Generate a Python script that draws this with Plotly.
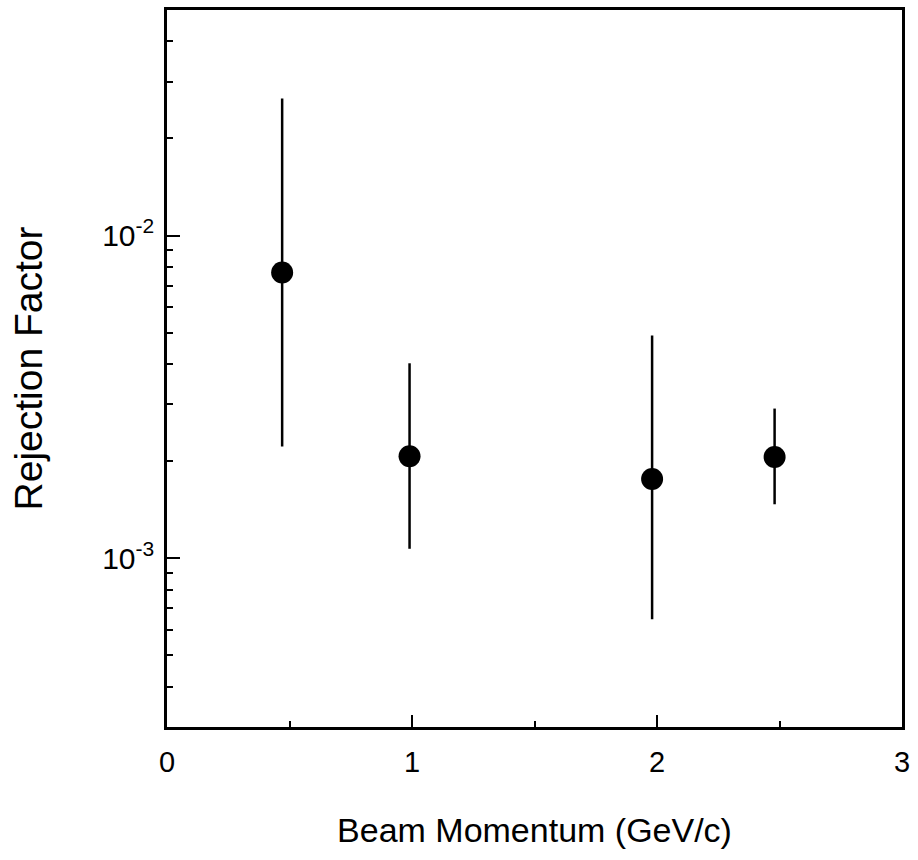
import plotly.graph_objects as go

# Data
momentum = [0.47, 0.99, 1.98, 2.48]
rejection = [7.68e-3, 2.07e-3, 1.76e-3, 2.06e-3]
err_upper = [2.66e-2, 4.02e-3, 4.90e-3, 2.91e-3]
err_lower = [2.22e-3, 1.07e-3, 6.47e-4, 1.47e-3]

x_ticks = [0, 1, 2, 3]
x_minor = [0.5, 1.5, 2.5]
y_ticks = [1e-3, 1e-2]
y_ticktext = ["10<sup>-3</sup>", "10<sup>-2</sup>"]
y_minor = [3e-4, 4e-4, 5e-4, 6e-4, 7e-4, 8e-4, 9e-4,
           2e-3, 3e-3, 4e-3, 5e-3, 6e-3, 7e-3, 8e-3, 9e-3,
           2e-2, 3e-2, 4e-2, 5e-2]

plus = [u - v for u, v in zip(err_upper, rejection)]
minus = [v - l for v, l in zip(rejection, err_lower)]

FONT = "Liberation Sans, Arial, Helvetica, sans-serif"

fig = go.Figure()
fig.add_trace(go.Scatter(
    x=momentum, y=rejection, mode="markers",
    marker=dict(color="black", size=22, symbol="circle"),
    error_y=dict(type="data", symmetric=False, array=plus, arrayminus=minus,
                 color="black", thickness=2.5, width=0),
    showlegend=False,
))

fig.update_layout(
    width=918, height=860,
    margin=dict(l=167, r=16, t=10, b=133),
    paper_bgcolor="white", plot_bgcolor="white",
    font=dict(family=FONT, color="black", size=26),
    xaxis=dict(
        range=[0, 3], tickvals=x_ticks, ticktext=[str(t) for t in x_ticks],
        ticks="inside", ticklen=12, tickwidth=2, tickcolor="black",
        showline=True, linewidth=2.5, linecolor="black", mirror=True,
        showgrid=False, zeroline=False,
        tickfont=dict(size=29, family=FONT, color="black"),
        ticklabelstandoff=7,
        minor=dict(tickvals=x_minor, ticks="inside", ticklen=6, tickwidth=2,
                   tickcolor="black", showgrid=False),
        title=dict(text="Beam Momentum (GeV/c)", standoff=42,
                   font=dict(size=34, family=FONT, color="black")),
        automargin=False,
    ),
    yaxis=dict(
        type="log", range=[-3.5229, -1.3010],
        tickvals=y_ticks, ticktext=y_ticktext,
        ticks="inside", ticklen=13, tickwidth=2, tickcolor="black",
        showline=True, linewidth=2.5, linecolor="black", mirror=True,
        showgrid=False, zeroline=False,
        tickfont=dict(size=30, family=FONT, color="black"),
        ticklabelstandoff=4,
        minor=dict(tickvals=y_minor, ticks="inside", ticklen=6, tickwidth=2,
                   tickcolor="black", showgrid=False),
        title=dict(text="Rejection Factor", standoff=48,
                   font=dict(size=39, family=FONT, color="black")),
        automargin=False,
    ),
)

fig.write_html("out.html")
